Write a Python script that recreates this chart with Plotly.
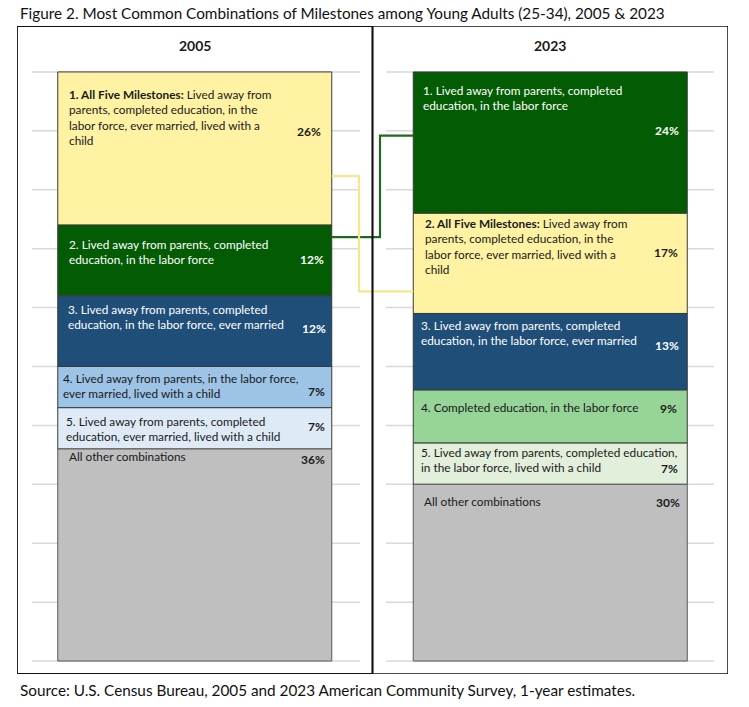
import plotly.graph_objects as go

# ---------------- data ----------------
years = ["2005", "2023"]

labels_2005 = [
    "<b>1. All Five Milestones:</b> Lived away from<br>parents, completed education, in the<br>labor force, ever married, lived with a<br>child",
    "2. Lived away from parents, completed<br>education, in the labor force",
    "3. Lived away from parents, completed<br>education, in the labor force, ever married",
    "4. Lived away from parents, in the labor force,<br>ever married, lived with a child",
    "5. Lived away from parents, completed<br>education, ever married, lived with a child",
    "All other combinations",
]
values_2005 = [26, 12, 12, 7, 7, 36]

labels_2023 = [
    "1. Lived away from parents, completed<br>education, in the labor force",
    "<b>2. All Five Milestones:</b> Lived away from<br>parents, completed education, in the<br>labor force, ever married, lived with a<br>child",
    "3. Lived away from parents, completed<br>education, in the labor force, ever married",
    "4. Completed education, in the labor force",
    "5. Lived away from parents, completed education,<br>in the labor force, lived with a child",
    "All other combinations",
]
values_2023 = [24, 17, 13, 9, 7, 30]

title_text = "Figure 2. Most Common Combinations of Milestones among Young Adults (25-34), 2005 & 2023"
source_text = "Source: U.S. Census Bureau, 2005 and 2023 American Community Survey, 1-year estimates."

# ---------------- styles ----------------
YELLOW = "#FFF2A3"
DKGREEN = "#035C03"
NAVY = "#1F4E79"
LTBLUE = "#9DC3E6"
VLTBLUE = "#DEEBF7"
GRAY = "#BFBFBF"
LTGREEN = "#97D497"
PALEGREEN = "#E2EFDA"
DARK = "#1a1a1a"
WHITE = "#ffffff"

colors_2005 = [YELLOW, DKGREEN, NAVY, LTBLUE, VLTBLUE, GRAY]
colors_2023 = [DKGREEN, YELLOW, NAVY, LTGREEN, PALEGREEN, GRAY]
tcol_2005 = [DARK, WHITE, WHITE, DARK, DARK, DARK]
tcol_2023 = [WHITE, DARK, WHITE, DARK, DARK, DARK]

# text placement offsets in px (from segment top / bar edges)
lab_dy = {"2005": [22, 19, 13, 11, 13, 7], "2023": [18, 9, 11, 17, 9, 16]}
lab_dx = {"2005": [9, 9, 8, 3, 6, 9], "2023": [8, 10, 6, 6, 6, 9]}
pct_dy = {"2005": [60, 34, 33, 25, 19, 11], "2023": [59, 39, 32, 18, 25, 18]}
pct_dx = {"2005": [9, 6, 4, 5, 5, 5], "2023": [6, 7, 6, 8, 7, 5]}

W, H = 749, 707
ML, MR, MT, MB = 17, 21, 26, 33
YMIN, YMAX = -2.2, 107.8
XMIN, XMAX = -0.5, 1.5
PXX = (W - ML - MR) / (XMAX - XMIN)
PXY = (H - MT - MB) / (YMAX - YMIN)
BW = 274 / PXX
FONT = "Lato"
FS = 11.8
LINE_H = 15.5

data = {
    "2005": (labels_2005, values_2005, colors_2005, tcol_2005),
    "2023": (labels_2023, values_2023, colors_2023, tcol_2023),
}

fig = go.Figure()
annotations = []

for xi, yr in enumerate(years):
    labels, vals, cols, tcols = data[yr]
    total = sum(vals)
    top = total
    for i, (lab, v, c, tc) in enumerate(zip(labels, vals, cols, tcols)):
        base = top - v
        fig.add_trace(go.Bar(
            x=[xi], y=[v], base=[base], width=BW,
            marker=dict(color=c, line=dict(color="#3a3a3a" if c != GRAY else "#595959", width=1)),
            hoverinfo="skip", showlegend=False,
        ))
        annotations.append(dict(
            x=xi - BW / 2, y=top, xref="x", yref="y",
            xanchor="left", yanchor="top", align="left",
            xshift=lab_dx[yr][i], yshift=-(lab_dy[yr][i] - LINE_H / 2 - 1),
            text=lab, showarrow=False,
            font=dict(family=FONT, size=FS, color=tc),
        ))
        annotations.append(dict(
            x=xi + BW / 2, y=top, xref="x", yref="y",
            xanchor="right", yanchor="middle",
            xshift=-pct_dx[yr][i], yshift=-pct_dy[yr][i],
            text=f"<b>{v}%</b>", showarrow=False,
            font=dict(family=FONT, size=12, color=tc),
        ))
        top = base

# cumulative helpers
def seg_bounds(vals, idx):
    top = sum(vals) - sum(vals[:idx])
    return top - vals[idx], top

# connectors (fraction within segment from bottom, elbow px)
connectors = [
    # (left idx, left frac, right idx, right frac, elbow px, color)
    (1, 0.83, 0, 0.55, 380, "#1E6B1E"),
    (0, 0.32, 1, 0.22, 359, "#F7E690"),
]
for li, lf, ri, rf, ex, col in connectors:
    lb, lt = seg_bounds(values_2005, li)
    rb, rt = seg_bounds(values_2023, ri)
    ly = lb + lf * (lt - lb)
    ry = rb + rf * (rt - rb)
    exd = XMIN + (ex - ML) / PXX
    fig.add_trace(go.Scatter(
        x=[BW / 2, exd, exd, 1 - BW / 2], y=[ly, ly, ry, ry],
        mode="lines", line=dict(color=col, width=2.2),
        hoverinfo="skip", showlegend=False,
    ))

shapes = []
# gridlines
grid_ext = [(32, 360), (386, 714)]
for g in range(0, 101, 10):
    for (a, b) in grid_ext:
        shapes.append(dict(
            type="line", xref="x", yref="y",
            x0=XMIN + (a - ML) / PXX, x1=XMIN + (b - ML) / PXX, y0=g, y1=g,
            line=dict(color="#D9D9D9", width=1.5), layer="below",
        ))
# panel boxes
shapes.append(dict(type="rect", xref="x", yref="y", x0=0.5, x1=1.5, y0=YMIN, y1=YMAX,
                   line=dict(color="#111111", width=1.5), layer="above"))
shapes.append(dict(type="rect", xref="x", yref="y", x0=-0.5, x1=0.5, y0=YMIN, y1=YMAX,
                   line=dict(color="#111111", width=1.8), layer="above"))

# panel headers
for xi, yr in enumerate(years):
    annotations.append(dict(
        x=xi, y=100, xref="x", yref="y", xanchor="center", yanchor="middle",
        yshift=26, text=f"<b>{yr}</b>", showarrow=False,
        font=dict(family=FONT, size=14, color=DARK),
    ))

annotations.append(dict(
    x=0, y=1, xref="paper", yref="paper", xanchor="left", yanchor="middle",
    xshift=1, yshift=13, text=title_text, showarrow=False,
    font=dict(family=FONT, size=15.3, color="#111111"),
))
annotations.append(dict(
    x=0, y=0, xref="paper", yref="paper", xanchor="left", yanchor="middle",
    xshift=1, yshift=-16, text=source_text, showarrow=False,
    font=dict(family=FONT, size=15.3, color="#111111"),
))

fig.update_layout(
    width=W, height=H,
    margin=dict(l=ML, r=MR, t=MT, b=MB),
    paper_bgcolor="white", plot_bgcolor="white",
    barmode="overlay",
    xaxis=dict(range=[XMIN, XMAX], visible=False, fixedrange=True),
    yaxis=dict(range=[YMIN, YMAX], visible=False, fixedrange=True),
    shapes=shapes, annotations=annotations,
    font=dict(family=FONT),
)

fig.write_html("out.html")
